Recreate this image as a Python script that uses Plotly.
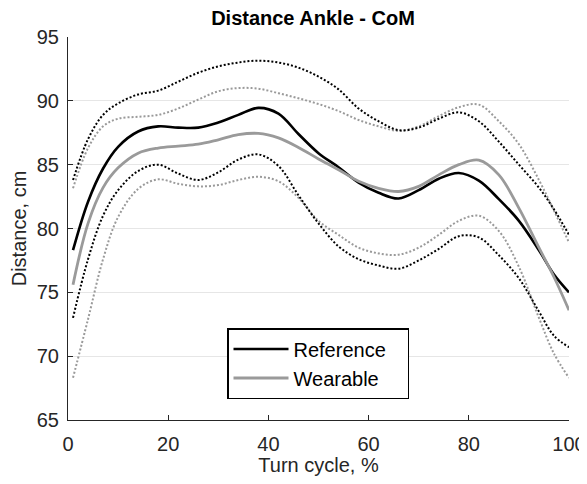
import plotly.graph_objects as go

# Turn cycle sample positions (%)
turn_cycle = [1, 4, 7, 10, 14, 18, 22, 26, 30, 34, 38, 42, 46, 50, 54, 58, 62, 66, 70, 74, 78, 82, 86, 90, 94, 97, 100]

reference_mean = [78.3, 82.1, 84.7, 86.4, 87.6, 88.0, 87.9, 87.9, 88.3, 88.9, 89.45, 89.0, 87.4, 85.9, 84.8, 83.6, 82.8, 82.35, 83.0, 83.9, 84.35, 83.75, 82.3, 80.6, 78.3, 76.4, 75.0]
reference_upper = [83.8, 87.0, 88.9, 89.8, 90.5, 90.8, 91.5, 92.2, 92.7, 93.0, 93.15, 93.0, 92.6, 91.9, 90.9, 89.4, 88.4, 87.7, 87.9, 88.6, 89.1, 88.4, 86.8, 85.0, 83.2, 81.5, 79.5]
reference_lower = [73.0, 77.6, 81.0, 83.0, 84.5, 85.0, 84.3, 83.8, 84.4, 85.4, 85.8, 84.9, 82.6, 80.4, 78.6, 77.6, 77.1, 76.85, 77.5, 78.4, 79.4, 79.3, 77.9, 76.1, 73.5, 71.6, 70.7]

wearable_mean = [75.6, 80.4, 83.2, 84.75, 85.9, 86.3, 86.45, 86.6, 86.95, 87.35, 87.45, 87.1, 86.35, 85.45, 84.6, 83.7, 83.15, 82.9, 83.3, 84.2, 85.0, 85.35, 84.2, 81.6, 78.5, 76.2, 73.6]
wearable_upper = [83.15, 86.3, 88.0, 88.6, 88.75, 88.9, 89.4, 90.1, 90.75, 91.0, 90.95, 90.6, 90.2, 89.75, 89.2, 88.5, 88.0, 87.65, 88.0, 88.8, 89.5, 89.7, 88.4, 86.6, 83.8, 81.4, 78.9]
wearable_lower = [68.3, 72.9, 77.6, 80.9, 83.1, 83.85, 83.5, 83.3, 83.4, 83.8, 84.05, 83.7, 82.4, 80.6, 79.5, 78.5, 78.05, 77.95, 78.5, 79.5, 80.6, 81.0, 79.8, 77.0, 73.0, 70.2, 68.3]

x_ticks = [0, 20, 40, 60, 80, 100]
y_ticks = [65, 70, 75, 80, 85, 90, 95]

BLACK = "#000000"
GRAY = "#9a9a9a"
AXIS = "#262626"
FONT = "Liberation Sans, Arial, sans-serif"
PAD = "\u00a0\u00a0\u00a0"

fig = go.Figure()

def add(y, color, width, dash, name=None):
    fig.add_trace(go.Scatter(
        x=turn_cycle, y=y, mode="lines",
        line=dict(color=color, width=width, dash=dash, shape="spline", smoothing=1.0),
        name=(name + PAD) if name else "", showlegend=name is not None,
        hoverinfo="skip",
    ))

add(wearable_upper, GRAY, 2, "2px,2px")
add(wearable_lower, GRAY, 2, "2px,2px")
add(reference_upper, BLACK, 2, "2px,2px")
add(reference_lower, BLACK, 2, "2px,2px")
add(reference_mean, BLACK, 2.6, "solid", "Reference")
add(wearable_mean, GRAY, 2.8, "solid", "Wearable")

# page body adds an 8px offset; size the figure so the plot area lands in place
W, H = 587, 468
fig.update_layout(
    width=W, height=H,
    margin=dict(l=60, r=26, t=29, b=56, autoexpand=False),
    paper_bgcolor="white", plot_bgcolor="white",
    font=dict(family=FONT, size=20, color=AXIS),
    title=dict(text="<b>Distance Ankle - CoM</b>", x=(313 - 8) / W, xanchor="center",
               y=1 - 10 / H, yanchor="middle", yref="container",
               font=dict(family=FONT, size=20, color="#000000")),
    xaxis=dict(range=[0, 100], tickvals=x_ticks, ticks="inside", ticklen=5,
               tickcolor=AXIS, showline=True, linecolor=AXIS, linewidth=1,
               showgrid=False, zeroline=False, mirror=False, automargin=False,
               ticklabelstandoff=6,
               title=dict(text="Turn cycle, %", standoff=12, font=dict(size=20, color=AXIS)),
               tickfont=dict(size=20, color=AXIS)),
    yaxis=dict(range=[65, 95], tickvals=y_ticks, ticks="inside", ticklen=5,
               tickcolor=AXIS, showline=True, linecolor=AXIS, linewidth=1,
               showgrid=True, gridcolor="#e6e6e6", gridwidth=1, zeroline=False,
               automargin=False, ticklabelstandoff=4,
               title=dict(text="Distance, cm", standoff=6, font=dict(size=20, color=AXIS)),
               tickfont=dict(size=20, color=AXIS)),
    legend=dict(x=(227 - 68) / 501, y=(420 - 328) / 383, xanchor="left", yanchor="top",
                bgcolor="white", bordercolor="#000000", borderwidth=1.5,
                font=dict(family=FONT, size=20, color="#000000"),
                itemwidth=55, tracegroupgap=0),
)

fig.write_html("out.html")
